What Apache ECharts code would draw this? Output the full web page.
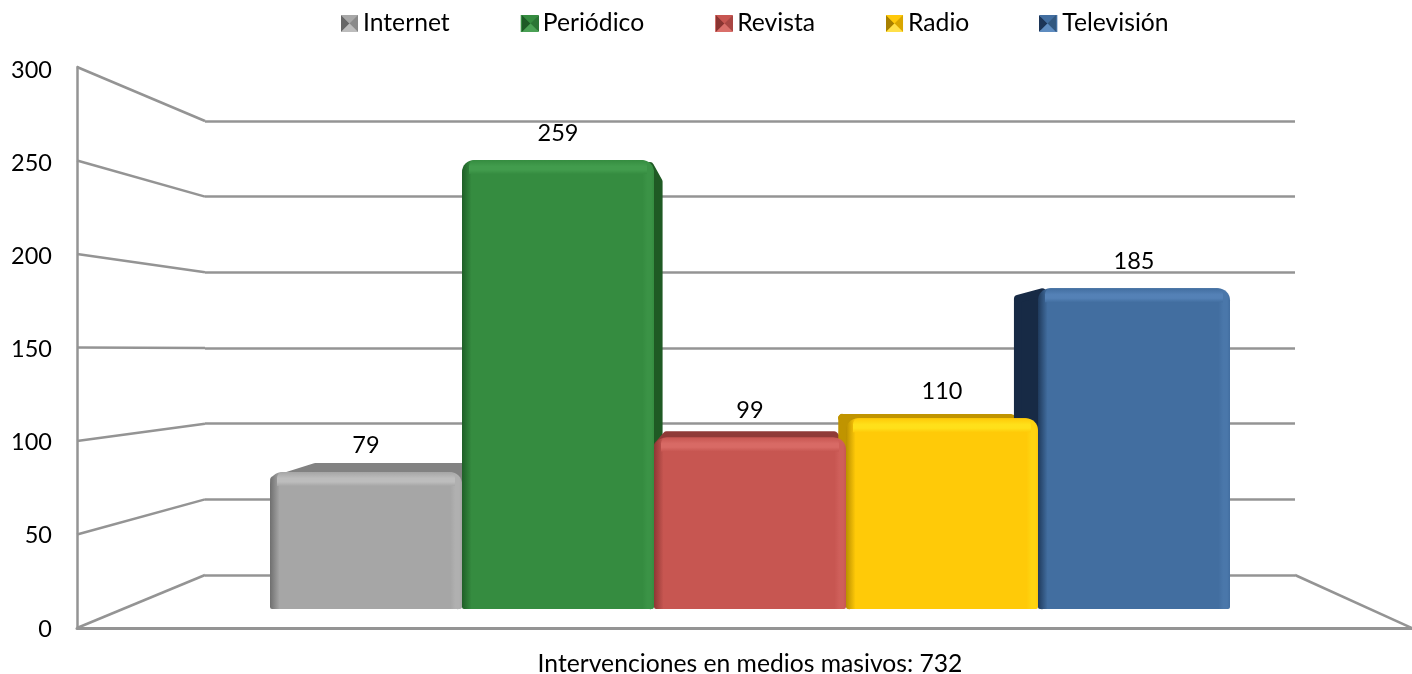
<!DOCTYPE html>
<html><head><meta charset="utf-8">
<style>html,body{margin:0;padding:0;background:#fff}#c{width:1412px;height:674px}</style>
<script src="https://cdn.jsdelivr.net/npm/echarts@6/dist/echarts.min.js"></script>
</head><body><div id="c"></div>
<script>
const footerCategories = ['Intervenciones en medios masivos: 732'];
const internet = [79];
const periodico = [259];
const revista = [99];
const radio = [110];
const television = [185];
const seriesNames = ['Internet', 'Periódico', 'Revista', 'Radio', 'Televisión'];
const wallTicks = [0, 50, 100, 150, 200, 250, 300];

const FONT = 'Lato';
const GRAY = '#949494';
const palette = [
  {body:'#a6a6a6', edge:'#6f6f6f', hi:'#bdbdbd', side:'#828282', lg:['#666666','#a8a8a8','#8a8a8a','#bcbcbc']},
  {body:'#358c40', edge:'#1f5f27', hi:'#429c4d', side:'#1f5a24', lg:['#1d5a26','#358c40','#2a7535','#4aa155']},
  {body:'#c75651', edge:'#8e3734', hi:'#d86a65', side:'#8f3a37', lg:['#8a3431','#c75651','#a94643','#da6f6a']},
  {body:'#ffca08', edge:'#b98e00', hi:'#ffe01a', side:'#c09400', lg:['#a88000','#ffc90b','#d9a600','#ffe04a']},
  {body:'#426ea0', edge:'#1f3a5c', hi:'#5481b6', side:'#172a45', lg:['#1c3557','#426ea0','#32587f','#5e8cc0']}
];
const allValues = [internet[0], periodico[0], revista[0], radio[0], television[0]];
const VP = [755, 366], DEPTH = 0.085;
const back = p => [p[0] + (VP[0]-p[0])*DEPTH, p[1] + (VP[1]-p[1])*DEPTH];

const chart = echarts.init(document.getElementById('c'), null, {renderer:'canvas'});

function barGradient(c){
  const rim = echarts.color.lerp(0.45, [c.body, c.hi]);
  return new echarts.graphic.LinearGradient(0,0,1,0,[
    {offset:0,color:c.edge},{offset:0.05,color:c.body},{offset:0.94,color:c.body},
    {offset:0.965,color:rim},{offset:0.985,color:rim},{offset:1,color:c.body}]);
}
const barSeries = [internet, periodico, revista, radio, television].map((d,i)=>({
  name: seriesNames[i], type:'bar', xAxisIndex:2, yAxisIndex:2, data:d,
  barGap:0, barCategoryGap:0, z:4,
  itemStyle:{color:barGradient(palette[i]), borderRadius:[12,12,2,2]},
  label:{show:true, position:'top', distance:15, fontFamily:FONT, fontSize:23.5, color:'#000'}
}));

const option = {
  animation:false,
  backgroundColor:'#fff',
  textStyle:{fontFamily:FONT},
  legend:{
    left:341, top:11, padding:0, itemWidth:17, itemHeight:17, itemGap:71, icon:'rect',
    selectedMode:false,
    textStyle:{fontFamily:FONT, fontSize:24.7, color:'#000'},
    data:seriesNames.map((n,i)=>({name:n, itemStyle:{color:palette[i].body}}))
  },
  grid:[
    {id:'front', left:77, top:67, width:1335, height:561, outerBoundsMode:'none'},
    {id:'wall', left:205, top:121, width:1090, height:454, outerBoundsMode:'none'},
    {id:'bars', left:270, top:89, width:960, height:520, outerBoundsMode:'none'},
    {id:'ticks', left:77, top:70, width:1335, height:559, outerBoundsMode:'none'}
  ],
  xAxis:[
    {gridIndex:0, type:'value', min:0, max:1, axisLabel:{show:false}, axisTick:{show:false}, splitLine:{show:false},
     axisLine:{show:true, onZero:false, lineStyle:{color:GRAY, width:3}}},
    {gridIndex:1, type:'value', min:0, max:1, show:false},
    {gridIndex:2, type:'category', data:footerCategories, axisLine:{show:false}, axisTick:{show:false},
     axisLabel:{margin:43, fontFamily:FONT, fontSize:24.7, color:'#000'}},
    {gridIndex:2, type:'value', min:0, max:5, show:false},
    {gridIndex:3, type:'value', min:0, max:1, show:false}
  ],
  yAxis:[
    {gridIndex:0, type:'value', min:0, max:300, interval:50, splitLine:{show:false}, axisTick:{show:false},
     axisLabel:{show:false},
     axisLine:{show:true, lineStyle:{color:GRAY, width:2.5}}},
    {gridIndex:1, type:'value', min:0, max:300, interval:50, axisLabel:{show:false}, axisTick:{show:false}, axisLine:{show:false},
     splitLine:{show:true, lineStyle:{color:GRAY, width:2.5}}},
    {gridIndex:2, type:'value', min:0, max:300, show:false},
    {gridIndex:3, type:'value', min:0, max:300, interval:50, splitLine:{show:false}, axisTick:{show:false}, axisLine:{show:false},
     axisLabel:{margin:25, fontFamily:FONT, fontSize:23.5, color:'#000'}}
  ],
  series:[
    {type:'custom', xAxisIndex:0, yAxisIndex:0, silent:true, z:1, clip:false, data:wallTicks.map(v=>[v]),
     encode:{x:-1,y:0},
     renderItem(params, api){
       const v = api.value(0);
       const a = chart.convertToPixel({gridIndex:0},[0,v]);
       const b = chart.convertToPixel({gridIndex:1},[0,v]);
       const children = [{type:'line', shape:{x1:a[0],y1:a[1],x2:b[0],y2:b[1]}, style:{stroke:GRAY, lineWidth:2.5}}];
       if (v === 0) {
         const c = chart.convertToPixel({gridIndex:0},[1,0]);
         const d = chart.convertToPixel({gridIndex:1},[1,0]);
         children.push({type:'line', shape:{x1:d[0],y1:d[1],x2:c[0],y2:c[1]}, style:{stroke:GRAY, lineWidth:2.5}});
       }
       return {type:'group', children};
     }},
    {type:'custom', xAxisIndex:3, yAxisIndex:2, silent:true, z:2, clip:false,
     data:allValues.map((v,i)=>[i,v]),
     renderItem(params, api){
       const i = api.value(0), v = api.value(1);
       const tl = api.coord([i,v]), br = api.coord([i+1,0]);
       const tr = [br[0],tl[1]], bl = [tl[0],br[1]];
       const btl = back(tl), btr = back(tr), bbl = back(bl), bbr = back(br);
       const st = {fill:palette[i].side, stroke:palette[i].side, lineWidth:8, lineJoin:'round'};
       const quad = pts => ({type:'polygon', shape:{points:pts}, style:st});
       const children = [];
       if (tl[0] > VP[0]) children.push(quad([[tl[0]+4,tl[1]+4],[btl[0]+4,btl[1]+4],[bbl[0]+4,bbl[1]-4],[bl[0]+4,bl[1]-4]]));
       if (tr[0] < VP[0]) children.push(quad([[tr[0]-4,tr[1]+6],[btr[0]-4,btr[1]+4],[bbr[0]-4,bbr[1]-4],[br[0]-4,br[1]-4]]));
       if (btl[1] < tl[1]) children.push(quad([[tl[0]+4,tl[1]+8],[btl[0]+4,btl[1]+4],[btr[0]-4,btr[1]+4],[tr[0]-4,tr[1]+8]]));
       return {type:'group', children};
     }},
    ...barSeries,
    {type:'custom', xAxisIndex:3, yAxisIndex:2, silent:true, z:5, clip:false,
     data:allValues.map((v,i)=>[i,v]),
     renderItem(params, api){
       const i = api.value(0), v = api.value(1);
       const tl = api.coord([i,v]), br = api.coord([i+1,0]);
       const c = palette[i];
       return {type:'rect', shape:{x:tl[0]+7,y:tl[1],width:br[0]-tl[0]-14,height:14,r:[6,6,0,0]},
         style:{fill:new echarts.graphic.LinearGradient(0,0,0,1,[
           {offset:0,color:c.body},{offset:0.45,color:c.hi},{offset:0.7,color:c.hi},{offset:1,color:c.body}])}};
     }}
  ],
  graphic:[341,522,716,886,1039].flatMap((x,i)=>{
    const s=17, y=15, m=s/2, l=palette[i].lg;
    const tri=(pts,col)=>({type:'polygon',silent:true,z:100,shape:{points:pts},style:{fill:col}});
    return [
      tri([[x,y],[x+m,y+m],[x,y+s]],l[0]),
      tri([[x,y],[x+s,y],[x+m,y+m]],l[1]),
      tri([[x+s,y],[x+s,y+s],[x+m,y+m]],l[2]),
      tri([[x,y+s],[x+s,y+s],[x+m,y+m]],l[3])
    ];
  })
};
chart.setOption(option);
</script></body></html>
